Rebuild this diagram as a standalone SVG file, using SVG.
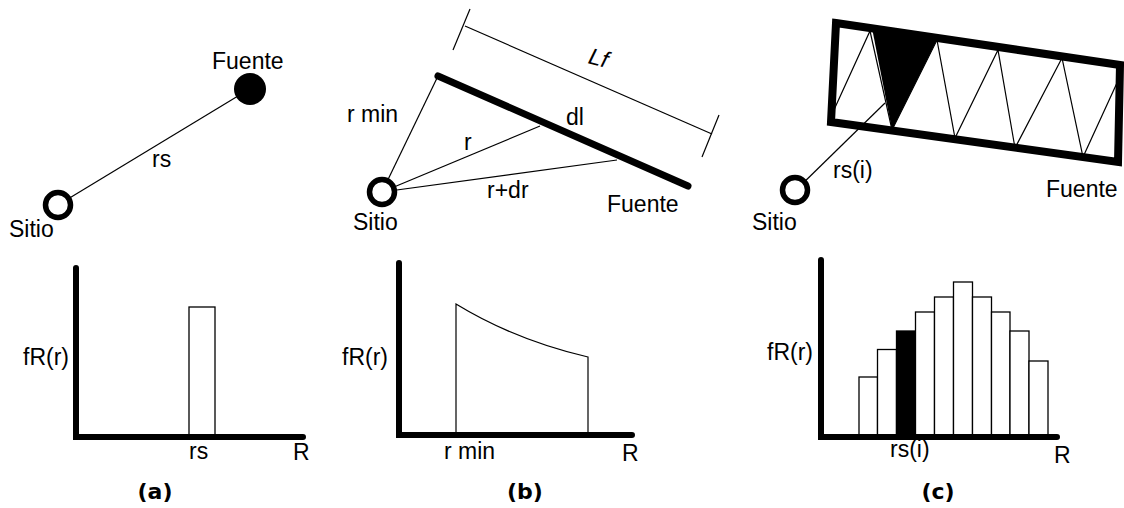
<svg xmlns="http://www.w3.org/2000/svg" width="1124" height="508" viewBox="0 0 1124 508">
<style>
text{font-family:"Liberation Sans",Arial,sans-serif;font-size:23px;fill:#000}
.cap{font-family:"DejaVu Sans",sans-serif;font-weight:bold;font-size:22px;text-anchor:middle}
.thin{stroke:#000;stroke-width:1.2;fill:none}
.axis{stroke:#000;stroke-width:6;fill:none;stroke-linecap:round}
.site{stroke:#000;stroke-width:5.5;fill:#fff}
.bar{stroke:#000;stroke-width:1.3;fill:#fff}
</style>
<rect width="1124" height="508" fill="#fff"/>
<g id="connectors">
<line class="thin" x1="58" y1="205" x2="238" y2="96"/>
<line class="thin" x1="382" y1="192" x2="438" y2="76"/>
<line class="thin" x1="382" y1="192" x2="540" y2="126"/>
<line class="thin" x1="382" y1="192" x2="617" y2="160"/>
<line class="thin" x1="795" y1="191" x2="885" y2="103"/>
</g>
<g id="panel-a-source"><circle cx="250" cy="89" r="16" fill="#000"/><text x="212" y="69">Fuente</text></g>
<g id="panel-a-site"><circle class="site" cx="58" cy="205" r="12.5"/><text x="9" y="237">Sitio</text></g>
<text x="152" y="167">rs</text>
<g id="panel-a-chart">
<rect class="bar" x="189" y="307" width="26" height="130"/>
<polyline class="axis" points="76,268 76,437 303,437"/>
<text x="23" y="365">fR(r)</text>
<text x="189" y="459">rs</text>
<text x="293" y="460">R</text>
<text class="cap" x="155" y="499">(a)</text>
</g>
<g id="panel-b-source">
<line x1="438" y1="76" x2="688" y2="186" stroke="#000" stroke-width="7" stroke-linecap="round"/>
<text x="607" y="212">Fuente</text>
</g>
<g id="panel-b-dimension">
<line class="thin" x1="465" y1="26" x2="712" y2="134"/>
<line class="thin" x1="453" y1="50" x2="470" y2="9"/>
<line class="thin" x1="702" y1="157" x2="719" y2="115"/>
<text x="589" y="66" font-size="25" font-style="italic" transform="rotate(15 600 58)">Lf</text>
</g>
<g id="panel-b-site"><circle class="site" cx="382" cy="192" r="12.5"/><text x="353" y="230">Sitio</text></g>
<text x="347" y="122">r min</text>
<text x="566" y="125">dl</text>
<text x="464" y="150">r</text>
<text x="487" y="198">r+dr</text>
<g id="panel-b-chart">
<path class="thin" d="M456,435 L456,304 Q515,340 588,357 L588,435"/>
<polyline class="axis" points="399,263 399,435 632,435"/>
<text x="342" y="365">fR(r)</text>
<text x="444" y="459">r min</text>
<text x="622" y="461">R</text>
<text class="cap" x="525" y="499">(b)</text>
</g>
<g id="panel-c-source">
<polygon points="872,28 892,130 937,40" fill="#000"/>
<polyline class="thin" points="833,112 870,31 892,130 937,40 955,138 998,50 1015,148 1062,58 1083,157 1122,72"/>
<polygon points="836,23 1120,65 1118,162 831,122" fill="none" stroke="#000" stroke-width="8" stroke-linejoin="miter"/>
<text x="1046" y="197">Fuente</text>
</g>
<g id="panel-c-site"><circle class="site" cx="795" cy="190" r="12.5"/><text x="752" y="230">Sitio</text></g>
<text x="833" y="178">rs(i)</text>
<g id="panel-c-chart">
<rect class="bar" x="859" y="377" width="18.5" height="60"/>
<rect class="bar" x="877.5" y="349.5" width="19" height="87.5"/>
<rect x="896.5" y="331" width="19" height="106" fill="#000" stroke="#000" stroke-width="1.3"/>
<rect class="bar" x="915.5" y="312" width="19" height="125"/>
<rect class="bar" x="934.5" y="297" width="19" height="140"/>
<rect class="bar" x="953.5" y="282" width="19" height="155"/>
<rect class="bar" x="972.5" y="297" width="19" height="140"/>
<rect class="bar" x="991.5" y="312" width="18.5" height="125"/>
<rect class="bar" x="1010" y="331" width="19" height="106"/>
<rect class="bar" x="1029" y="361" width="19" height="76"/>
<polyline class="axis" points="821,260 821,437 1057,437"/>
<text x="767" y="360">fR(r)</text>
<text x="890" y="457">rs(i)</text>
<text x="1054" y="463">R</text>
<text class="cap" x="938" y="499">(c)</text>
</g>
</svg>
